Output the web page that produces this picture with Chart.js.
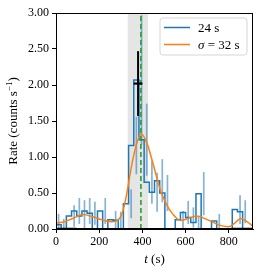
<!DOCTYPE html>
<html><head><meta charset="utf-8">
<script src="https://cdn.jsdelivr.net/npm/chart.js@4/dist/chart.umd.min.js"></script>
<style>html,body{margin:0;padding:0;background:#fff}#c{display:block}</style>
</head><body>
<canvas id="c" width="266" height="273"></canvas>
<script>
// ---- data ----
const binEdges = [0,24,48,72,96,120,144,168,192,216,240,264,288,312,336,360,384,408,432,456,480,504,528,552,576,600,624,648,672,696,720,744,768,792,816,840,864,888,912];
const binRates = [0.11,0.06,0.0,0.18,0.25,0.18,0.25,0.22,0.0,0.25,0.0,0.13,0.12,0.0,0.35,1.16,2.07,1.24,0.65,0.51,0.67,0.50,0.0,0.0,0.13,0.23,0.16,0.09,0.49,0.0,0.0,0.11,0.0,0.0,0.0,0.27,0.24,0.0];
const binErrors = [0.10,0.08,0,0.15,0.18,0.22,0.18,0.16,0,0.18,0,0.12,0.12,0,0.20,0.40,0.90,0.50,0.30,0.27,0.30,0.25,0,0,0.12,0.16,0.14,0.09,0.30,0,0,0.10,0,0,0,0.20,0.16,0];
const smoothT    = [0,40,80,125,170,210,255,300,325,350,375,395,420,450,480,510,540,575,605,650,700,760,800,830,855,885,912];
const smoothRate = [0.08,0.10,0.15,0.20,0.17,0.13,0.10,0.17,0.45,0.88,1.20,1.32,1.20,0.90,0.57,0.35,0.21,0.12,0.14,0.18,0.13,0.05,0.03,0.09,0.145,0.10,0.04];
const peakT = 380, peakTErr = 20, peakRate = 2.02, peakRateErr = 0.45;
const triggerT = 393;
const bandRange = [332, 426];
const bkgIntervals = [[0, 94], [816, 912]];
const xTickVals = [0,200,400,600,800];
const yTickVals = [0,0.5,1,1.5,2,2.5,3];
const legendLabels = ['24 s', 'σ = 32 s'];

// ---- build datasets ----
const stepData = binEdges.map((t,i)=>({x:t, y: i<binRates.length ? binRates[i] : binRates[binRates.length-1]}));
stepData.unshift({x:binEdges[0], y:0});
stepData.push({x:binEdges[binEdges.length-1], y:0});
const smoothData = smoothT.map((t,i)=>({x:t,y:smoothRate[i]}));

const FONT = "'Liberation Serif', 'DejaVu Serif', serif";
const BLUE = '#1f77b4', ORANGE = '#ff7f0e', GREEN = '#2ca02c';

const datasets = [
  {data: stepData, stepped: 'after', borderColor: BLUE, borderWidth: 1.5, pointRadius: 0, fill: false, order: 5},
  {data: smoothData, borderColor: ORANGE, borderWidth: 1.5, pointRadius: 0, cubicInterpolationMode: 'monotone', fill:false, order: 4},
  {data: [{x:triggerT,y:0},{x:triggerT,y:3}], borderColor: GREEN, borderWidth: 1.6, borderDash:[5,3], pointRadius:0, order: 3},
  {data: [{x:peakT,y:peakRate-peakRateErr},{x:peakT,y:peakRate+peakRateErr}], borderColor:'#000', borderWidth:2, pointRadius:0, order:2},
  {data: [{x:peakT-peakTErr,y:peakRate},{x:peakT+peakTErr,y:peakRate}], borderColor:'#000', borderWidth:2.2, pointRadius:0, order:1},
];
bkgIntervals.forEach(iv=>datasets.push({data:[{x:iv[0],y:0},{x:iv[1],y:0}], borderColor:'#000', borderWidth:2.5, pointRadius:0, order:1}));

const extras = {
  id: 'extras',
  beforeDatasetsDraw(chart) {
    const {ctx, chartArea:a, scales:{x,y}} = chart;
    ctx.save();
    ctx.fillStyle = 'rgba(0,0,0,0.1)';
    const x0 = x.getPixelForValue(bandRange[0]), x1 = x.getPixelForValue(bandRange[1]);
    ctx.fillRect(x0, a.top, x1-x0, a.bottom-a.top);
    // error bars
    ctx.strokeStyle = 'rgba(31,119,180,0.55)';
    ctx.lineWidth = 1.7;
    for (let i=0;i<binRates.length;i++) {
      if (!binErrors[i]) continue;
      const cx = x.getPixelForValue((binEdges[i]+binEdges[i+1])/2);
      ctx.beginPath();
      ctx.moveTo(cx, y.getPixelForValue(Math.max(0,binRates[i]-binErrors[i])));
      ctx.lineTo(cx, y.getPixelForValue(binRates[i]+binErrors[i]));
      ctx.stroke();
    }
    ctx.restore();
  },
  afterDraw(chart) {
    const {ctx, chartArea:a} = chart;
    ctx.save();
    ctx.strokeStyle = '#000'; ctx.lineWidth = 1;
    ctx.strokeRect(a.left+0.5, a.top+0.5, a.right-a.left-1, a.bottom-a.top-1);
    ctx.fillStyle = '#000';
    ctx.textBaseline = 'alphabetic';
    // x title
    ctx.font = 'italic 13px ' + FONT;
    const w1 = ctx.measureText('t').width;
    ctx.font = '13px ' + FONT;
    const w2 = ctx.measureText(' (s)').width;
    let sx = (a.left+a.right)/2 - (w1+w2)/2;
    ctx.font = 'italic 13px ' + FONT; ctx.fillText('t', sx, 263);
    ctx.font = '13px ' + FONT; ctx.fillText(' (s)', sx+w1, 263);
    // y title
    ctx.translate(17, (a.top+a.bottom)/2);
    ctx.rotate(-Math.PI/2);
    ctx.font = '13px ' + FONT;
    const p1 = 'Rate (counts s', p3 = ')';
    const wa = ctx.measureText(p1).width, wc = ctx.measureText(p3).width;
    ctx.font = '9px ' + FONT;
    const wb = ctx.measureText('−1').width;
    let yx = -(wa+wb+wc)/2;
    ctx.font = '13px ' + FONT; ctx.fillText(p1, yx, 0);
    ctx.font = '9px ' + FONT; ctx.fillText('−1', yx+wa, -5);
    ctx.font = '13px ' + FONT; ctx.fillText(p3, yx+wa+wb, 0);
    ctx.restore();
    // legend
    ctx.save();
    const lx = 160, ly = 18, lw = 87, lh = 37, r = 3;
    ctx.beginPath();
    ctx.moveTo(lx+r, ly); ctx.lineTo(lx+lw-r, ly); ctx.quadraticCurveTo(lx+lw, ly, lx+lw, ly+r);
    ctx.lineTo(lx+lw, ly+lh-r); ctx.quadraticCurveTo(lx+lw, ly+lh, lx+lw-r, ly+lh);
    ctx.lineTo(lx+r, ly+lh); ctx.quadraticCurveTo(lx, ly+lh, lx, ly+lh-r);
    ctx.lineTo(lx, ly+r); ctx.quadraticCurveTo(lx, ly, lx+r, ly); ctx.closePath();
    ctx.fillStyle = 'rgba(255,255,255,0.85)'; ctx.fill();
    ctx.strokeStyle = '#d6d6d6'; ctx.lineWidth = 1; ctx.stroke();
    const rows = [[BLUE, 27.5], [ORANGE, 44.5]];
    rows.forEach((rw, i) => {
      ctx.strokeStyle = rw[0]; ctx.lineWidth = 1.5;
      ctx.beginPath(); ctx.moveTo(164, rw[1]); ctx.lineTo(190, rw[1]); ctx.stroke();
    });
    ctx.fillStyle = '#000';
    ctx.font = '13px ' + FONT;
    ctx.fillText(legendLabels[0], 198, 32);
    ctx.font = 'italic 13px ' + FONT;
    const sig = legendLabels[1].charAt(0);
    ctx.fillText(sig, 198, 49);
    const ws = ctx.measureText(sig).width;
    ctx.font = '13px ' + FONT;
    ctx.fillText(legendLabels[1].slice(1), 198+ws, 49);
    ctx.restore();
  }
};

const tickFont = {family: FONT, size: 12};
new Chart(document.getElementById('c'), {
  type: 'line',
  data: {datasets},
  options: {
    responsive: false, animation: false, devicePixelRatio: 1,
    layout: {padding: {top: 13, right: 13, left: 0, bottom: 0}},
    plugins: {legend: {display: false}, tooltip: {enabled: false}},
    scales: {
      x: {type: 'linear', min: 0, max: 912,
        afterBuildTicks: s => { s.ticks = xTickVals.map(v => ({value: v})); },
        afterFit: s => { s.height = 44; },
        grid: {drawOnChartArea: false, drawTicks: true, tickLength: 4, color: '#000'},
        border: {display: true, color: '#000'},
        ticks: {font: tickFont, color: '#000', padding: 2, maxRotation: 0}},
      y: {type: 'linear', min: 0, max: 3,
        afterBuildTicks: s => { s.ticks = yTickVals.map(v => ({value: v})); },
        afterFit: s => { s.width = 56; },
        grid: {drawOnChartArea: false, drawTicks: true, tickLength: 4, color: '#000'},
        border: {display: true, color: '#000'},
        ticks: {font: tickFont, color: '#000', padding: 3, callback: v => v.toFixed(2)}}
    }
  },
  plugins: [extras]
});
</script>
</body></html>
